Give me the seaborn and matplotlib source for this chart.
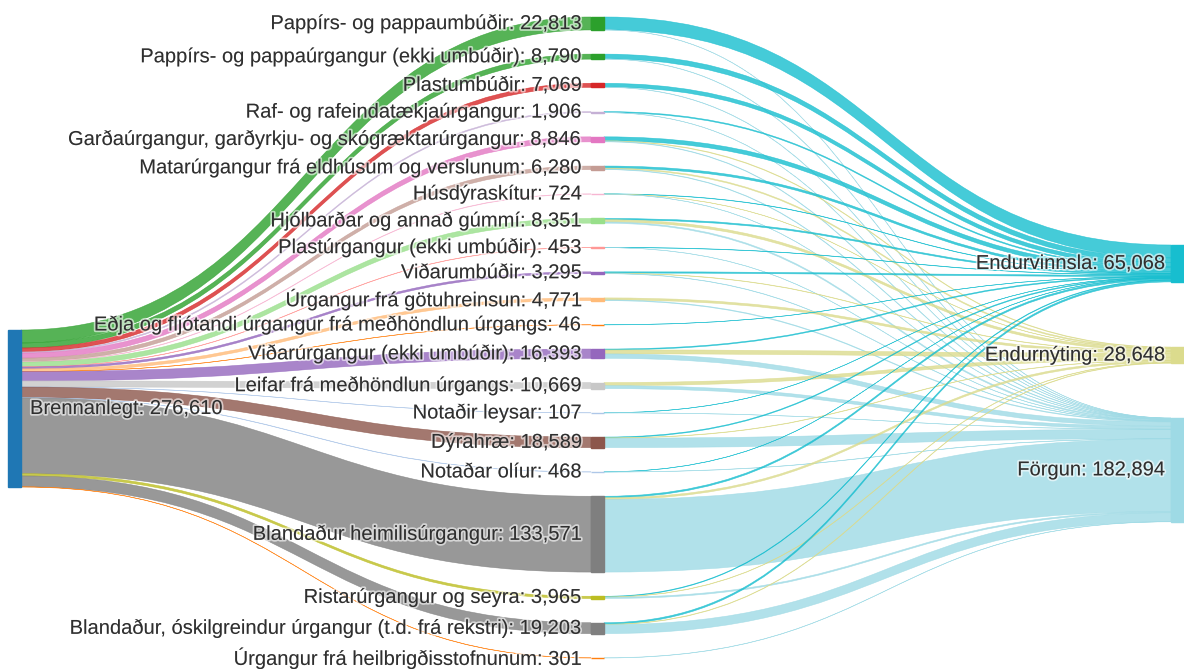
import matplotlib.pyplot as plt
from matplotlib.path import Path
from matplotlib.patches import PathPatch, Rectangle
import matplotlib.patheffects as pe
import seaborn as sns

sns.set_theme(style="white")
plt.rcParams['font.family'] = ['Liberation Sans', 'DejaVu Sans']

# data
source_label = "Brennanlegt"
categories = [
    "Pappírs- og pappaumbúðir",
    "Pappírs- og pappaúrgangur (ekki umbúðir)",
    "Plastumbúðir",
    "Raf- og rafeindatækjaúrgangur",
    "Garðaúrgangur, garðyrkju- og skógræktarúrgangur",
    "Matarúrgangur frá eldhúsum og verslunum",
    "Húsdýraskítur",
    "Hjólbarðar og annað gúmmí",
    "Plastúrgangur (ekki umbúðir)",
    "Viðarumbúðir",
    "Úrgangur frá götuhreinsun",
    "Eðja og fljótandi úrgangur frá meðhöndlun úrgangs",
    "Viðarúrgangur (ekki umbúðir)",
    "Leifar frá meðhöndlun úrgangs",
    "Notaðir leysar",
    "Dýrahræ",
    "Notaðar olíur",
    "Blandaður heimilisúrgangur",
    "Ristarúrgangur og seyra",
    "Blandaður, óskilgreindur úrgangur (t.d. frá rekstri)",
    "Úrgangur frá heilbrigðisstofnunum",
]
cat_values = [22813, 8790, 7069, 1906, 8846, 6280, 724, 8351, 453, 3295, 4771,
              46, 16393, 10669, 107, 18589, 468, 133571, 3965, 19203, 301]

targets = ["Endurvinnsla", "Endurnýting", "Förgun"]
to_endurvinnsla = [22642, 8400, 6600, 1750, 7000, 3600, 550, 2300, 380, 2200, 0,
                   46, 1600, 0, 80, 1400, 120, 2600, 1100, 2700, 0]
to_endurnyting = [0, 0, 0, 0, 1000, 1800, 100, 4000, 0, 600, 3600,
                  0, 7000, 5500, 0, 600, 0, 3048, 600, 800, 0]
to_forgun = [171, 390, 469, 156, 846, 880, 74, 2051, 73, 495, 1171,
             0, 7793, 5169, 27, 16589, 348, 127923, 2265, 15703, 301]

pal = sns.color_palette("tab20")
cat_color_idx = [4, 4, 6, 9, 12, 11, 13, 5, 7, 8, 3, 2, 8, 15, 1, 10, 1, 14, 16, 14, 2]
cat_colors = [pal[i] for i in cat_color_idx]
source_color = pal[0]
target_colors = [pal[18], pal[17], pal[19]]

W, H = 1184, 669
fig = plt.figure(figsize=(W / 100, H / 100), dpi=100)
ax = fig.add_axes([0, 0, 1, 1])
ax.set_xlim(0, W)
ax.set_ylim(H, 0)
ax.axis('off')

total = sum(cat_values)
scale = 157 / total
node_w = 13
x_left, x_mid, x_right = 8, 591, 1171
left_top = 330
mid_top, mid_gap = 17, 24.2
right_tops = [245, 347, 418]


def band(xa, ya0, ya1, xb, yb0, yb1, color, alpha=0.8):
    xm = (xa + xb) / 2
    verts = [(xa, ya0), (xm, ya0), (xm, yb0), (xb, yb0), (xb, yb1),
             (xm, yb1), (xm, ya1), (xa, ya1), (xa, ya0)]
    codes = [Path.MOVETO, Path.CURVE4, Path.CURVE4, Path.CURVE4, Path.LINETO,
             Path.CURVE4, Path.CURVE4, Path.CURVE4, Path.CLOSEPOLY]
    ax.add_patch(PathPatch(Path(verts, codes), fc=color, ec=color, lw=0.4,
                           alpha=alpha, zorder=1))


# middle node positions
mid_y = []
y = mid_top
for v in cat_values:
    mid_y.append(y)
    y += v * scale + mid_gap

# first layer links
cur = left_top
for i, v in enumerate(cat_values):
    h = v * scale
    band(x_left + node_w, cur, cur + h, x_mid, mid_y[i], mid_y[i] + h, cat_colors[i])
    cur += h

# second layer links
flows = [to_endurvinnsla, to_endurnyting, to_forgun]
right_cur = list(right_tops)
for i in range(len(categories)):
    out = mid_y[i]
    for j in range(3):
        h = flows[j][i] * scale
        if flows[j][i] > 0:
            band(x_mid + node_w, out, out + h, x_right, right_cur[j], right_cur[j] + h,
                 target_colors[j])
        out += h
        right_cur[j] += h

# nodes
halo = [pe.withStroke(linewidth=2.5, foreground=(1, 1, 1, 0.6))]
txt = dict(fontsize=14.5, color='#2f2f2f', path_effects=halo, zorder=5)

ax.add_patch(Rectangle((x_left, left_top), node_w, total * scale, color=source_color, zorder=3))
ax.text(x_left + node_w + 9, left_top + total * scale / 2, f"{source_label}: {total:,}",
        ha='left', va='center', **txt)

for i, v in enumerate(cat_values):
    h = v * scale
    ax.add_patch(Rectangle((x_mid, mid_y[i]), node_w, h, color=cat_colors[i], zorder=3))
    ax.text(x_mid - 9, mid_y[i] + h / 2, f"{categories[i]}: {v:,}",
            ha='right', va='center', **txt)

for j, name in enumerate(targets):
    tv = sum(flows[j])
    h = tv * scale
    ax.add_patch(Rectangle((x_right, right_tops[j]), node_w, h, color=target_colors[j], zorder=3))
    ax.text(x_right - 6, right_tops[j] + h / 2, f"{name}: {tv:,}",
            ha='right', va='center', **txt)

fig.savefig('out.png', dpi=100)
